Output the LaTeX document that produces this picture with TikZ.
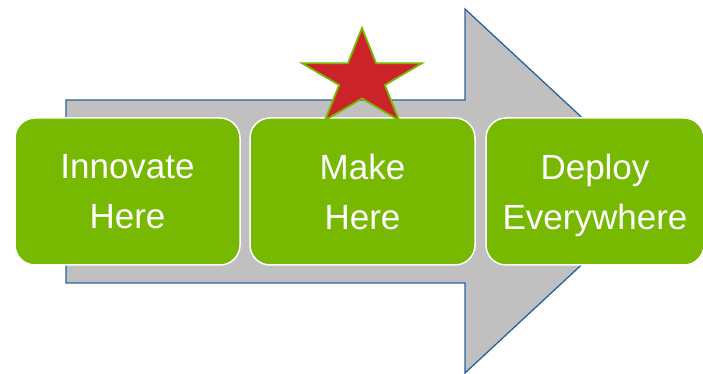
\documentclass[tikz,border=0pt]{standalone}
\usepackage{fontspec}
\setmainfont{Liberation Sans}
\definecolor{stagegreen}{HTML}{77B900}
\definecolor{arrowgray}{HTML}{C0C0C0}
\definecolor{arrowblue}{HTML}{2B619B}
\definecolor{starred}{HTML}{CC2229}
\begin{document}
\begin{tikzpicture}[x=1pt,y=1pt,
  stagebox/.style={draw=white, line width=1.5pt, fill=stagegreen, rounded corners=20pt,
    minimum height=147pt, inner sep=0pt, text=white, align=center, text depth=0pt,
    font=\fontsize{35}{50}\selectfont},
  bigarrow/.style={fill=arrowgray, draw=arrowblue, line width=1.3pt, line join=miter},
  starshape/.style={fill=starred, draw=stagegreen, line width=1.8pt, line join=miter}]
\useasboundingbox (0,0) rectangle (703,374);
% the wide process arrow behind the stages
\draw[bigarrow] (66,91) -- (66,274) -- (465,274) -- (465,365) -- (661,183)
  -- (465,1) -- (465,91) -- cycle;
% the three stages
\node[stagebox, minimum width=225pt] (innovate) at (127.5,182.5) {Innovate\\Here};
\node[stagebox, minimum width=225pt] (make) at (362.5,182.5) {Make\\Here};
\node[stagebox, minimum width=218pt] (deploy) at (595,182.5) {Deploy\\Everywhere};
% star marking the middle stage
\draw[starshape]
  ({362+63*cos(90)},{295+51*sin(90)}) -- ({362+24*cos(126)},{295+19.5*sin(126)})
  -- ({362+63*cos(162)},{295+51*sin(162)}) -- ({362+24*cos(198)},{295+19.5*sin(198)})
  -- ({362+63*cos(234)},{295+51*sin(234)}) -- ({362+24*cos(270)},{295+19.5*sin(270)})
  -- ({362+63*cos(306)},{295+51*sin(306)}) -- ({362+24*cos(342)},{295+19.5*sin(342)})
  -- ({362+63*cos(18)},{295+51*sin(18)}) -- ({362+24*cos(54)},{295+19.5*sin(54)})
  -- cycle;
\end{tikzpicture}
\end{document}
